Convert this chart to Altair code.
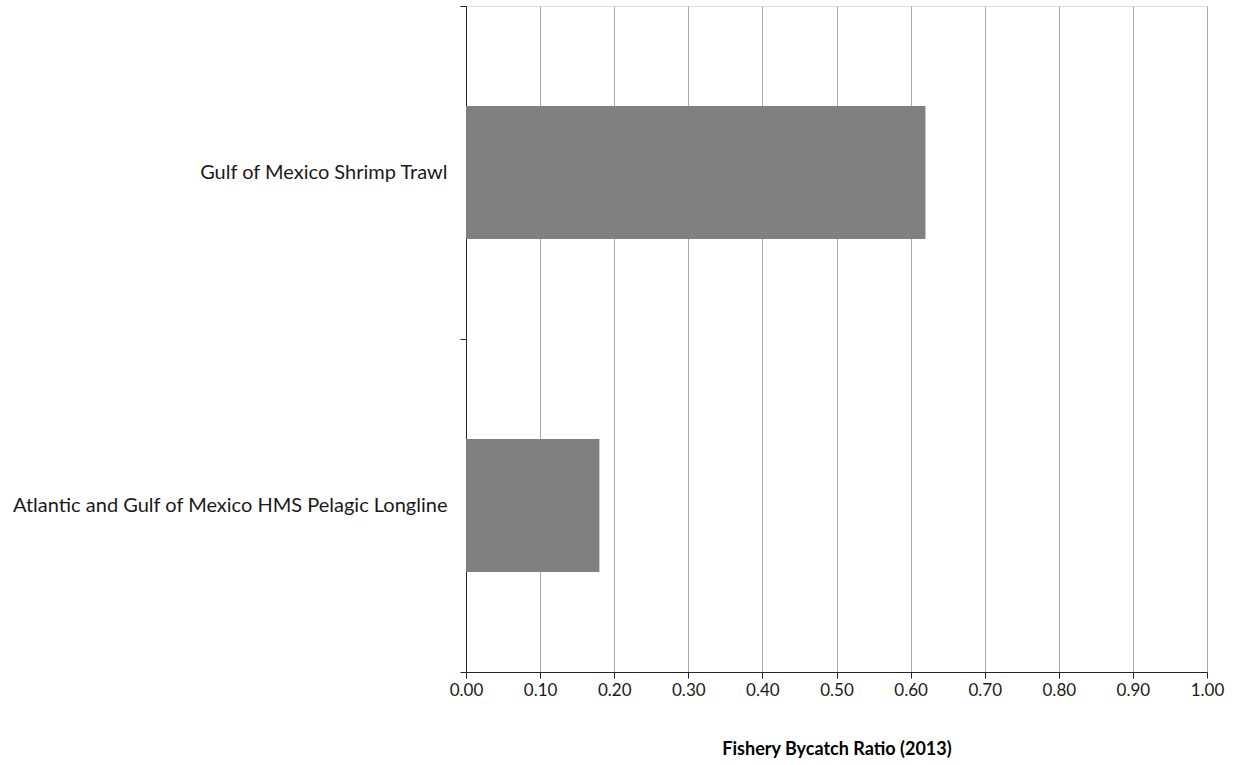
import altair as alt
import pandas as pd

# Fishery bycatch ratios, 2013
fisheries = [
    "Gulf of Mexico Shrimp Trawl",
    "Atlantic and Gulf of Mexico HMS Pelagic Longline",
]
bycatch_ratio = [0.62, 0.18]

df = pd.DataFrame({"fishery": fisheries, "ratio": bycatch_ratio})

FONT = "Lato"

chart = (
    alt.Chart(df)
    .mark_bar(color="#808080", height=alt.RelativeBandSize(0.4))
    .encode(
        x=alt.X(
            "ratio:Q",
            scale=alt.Scale(domain=[0, 1], nice=False, zero=True),
            axis=alt.Axis(
                title="Fishery Bycatch Ratio (2013)",
                values=[i / 10 for i in range(11)],
                format=".2f",
                labelFlush=False,
                grid=True,
                gridColor="#ababab",
                gridWidth=1,
                domainColor="#262626",
                tickColor="#262626",
                tickSize=6,
                labelFont=FONT,
                labelFontSize=17,
                labelColor="#1a1a1a",
                labelPadding=4,
                titleFont=FONT,
                titleFontSize=18,
                titleFontWeight="bold",
                titleColor="#000000",
                titlePadding=42,
            ),
        ),
        y=alt.Y(
            "fishery:N",
            sort=fisheries,
            scale=alt.Scale(paddingInner=0, paddingOuter=0),
            axis=alt.Axis(
                title=None,
                tickBand="extent",
                grid=False,
                domainColor="#262626",
                tickColor="#262626",
                tickSize=6,
                labelFont=FONT,
                labelFontSize=20,
                labelColor="#1a1a1a",
                labelPadding=13,
                labelLimit=500,
            ),
        ),
    )
    .properties(
        width=741,
        height=666,
        autosize=alt.AutoSizeParams(type="none"),
        padding={"left": 466, "top": 6, "right": 29, "bottom": 93},
    )
    .configure_view(stroke=None)
    .configure(background="#ffffff")
)

chart.save("out.html", embed_options={"renderer": "svg", "actions": False})
